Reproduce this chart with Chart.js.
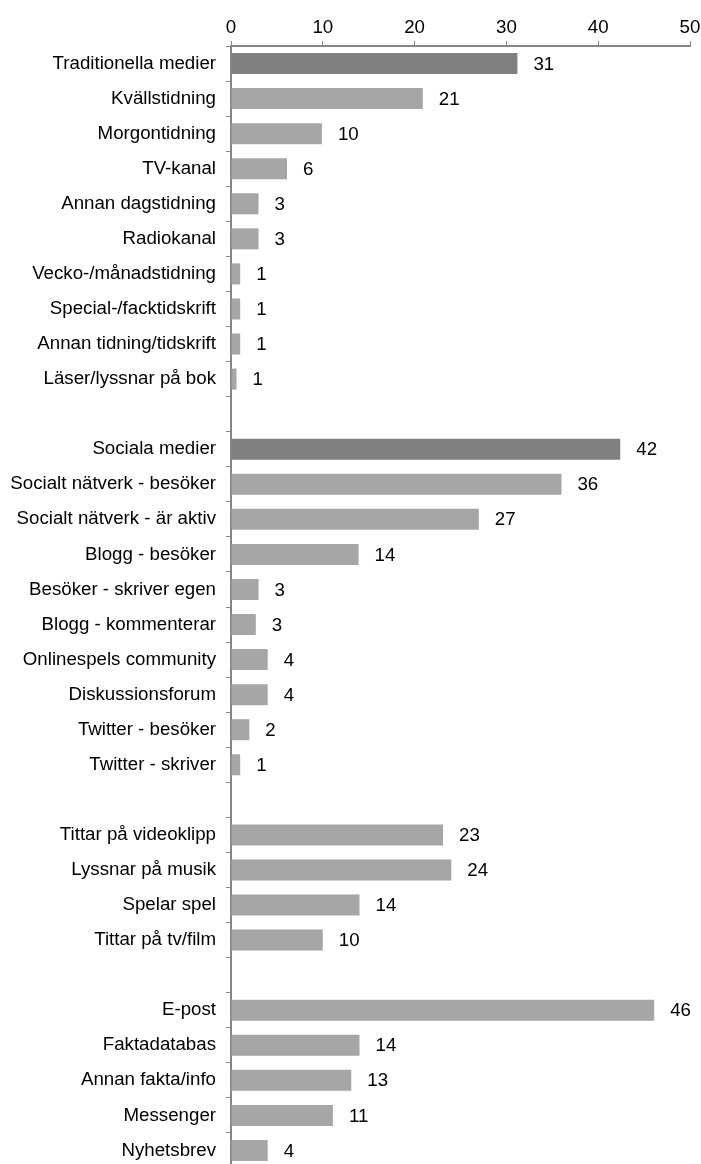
<!DOCTYPE html>
<html>
<head>
<meta charset="utf-8">
<script src="https://cdn.jsdelivr.net/npm/chart.js@4/dist/chart.umd.min.js"></script>
<style>
    html, body { margin: 0; padding: 0; background: #fff; overflow: hidden; }
    #wrap { width: 701px; height: 1164px; overflow: hidden; }
    canvas { display: block; }
</style>
</head>
<body>
<!-- canvas is a few px taller than the page: the original crop cuts the plot at the bottom -->
<div id="wrap"><canvas id="mediaChart" width="701" height="1168"></canvas></div>
<script>
// Categories (empty strings are the gaps between groups)
const categories = [
    'Traditionella medier', 'Kvällstidning', 'Morgontidning', 'TV-kanal', 'Annan dagstidning',
    'Radiokanal', 'Vecko-/månadstidning', 'Special-/facktidskrift', 'Annan tidning/tidskrift', 'Läser/lyssnar på bok',
    '',
    'Sociala medier', 'Socialt nätverk - besöker', 'Socialt nätverk - är aktiv', 'Blogg - besöker', 'Besöker - skriver egen',
    'Blogg - kommenterar', 'Onlinespels community', 'Diskussionsforum', 'Twitter - besöker', 'Twitter - skriver',
    '',
    'Tittar på videoklipp', 'Lyssnar på musik', 'Spelar spel', 'Tittar på tv/film',
    '',
    'E-post', 'Faktadatabas', 'Annan fakta/info', 'Messenger', 'Nyhetsbrev'
];

// Bar lengths
const values = [
    31.2, 20.9, 9.9, 6.1, 3.0, 3.0, 1.0, 1.0, 1.0, 0.6,
    null,
    42.4, 36.0, 27.0, 13.9, 3.0, 2.7, 4.0, 4.0, 2.0, 1.0,
    null,
    23.1, 24.0, 14.0, 10.0,
    null,
    46.1, 14.0, 13.1, 11.1, 4.0
];

// Labels printed next to the bars
const valueLabels = [
    '31', '21', '10', '6', '3', '3', '1', '1', '1', '1',
    '',
    '42', '36', '27', '14', '3', '3', '4', '4', '2', '1',
    '',
    '23', '24', '14', '10',
    '',
    '46', '14', '13', '11', '4'
];

// Group totals get the darker bar
const headerRows = ['Traditionella medier', 'Sociala medier'];

const xTicks = [0, 10, 20, 30, 40, 50];

const FONT = "'Liberation Sans', Arial, sans-serif";
const FONT_SIZE = 18.7;
const AXIS_COLOR = '#868686';

const barColors = categories.map(c => headerRows.includes(c) ? '#808080' : '#a6a6a6');

// Draws the value next to each bar
const valueLabelPlugin = {
    id: 'valueLabels',
    afterDatasetsDraw(chart) {
        const ctx = chart.ctx;
        const meta = chart.getDatasetMeta(0);
        ctx.save();
        ctx.font = FONT_SIZE + 'px ' + FONT;
        ctx.fillStyle = '#000';
        ctx.textAlign = 'left';
        ctx.textBaseline = 'middle';
        meta.data.forEach((bar, i) => {
            if (values[i] === null) return;
            ctx.fillText(valueLabels[i], bar.x + 16, bar.y + 1);
        });
        ctx.restore();
    }
};

const ctx = document.getElementById('mediaChart').getContext('2d');
const mediaChart = new Chart(ctx, {
    type: 'bar',
    data: {
        labels: categories,
        datasets: [{
            data: values,
            backgroundColor: barColors,
            borderWidth: 0,
            barPercentage: 0.6,
            categoryPercentage: 1.0
        }]
    },
    options: {
        indexAxis: 'y',
        responsive: false,
        animation: false,
        layout: { padding: { top: 0, right: 11, bottom: 0, left: 0 } },
        plugins: {
            legend: { display: false },
            tooltip: { enabled: false }
        },
        scales: {
            x: {
                position: 'top',
                min: 0,
                max: 50,
                afterBuildTicks: scale => { scale.ticks = xTicks.map(v => ({ value: v })); },
                afterFit: scale => {
                    scale.height = 46;
                    scale.paddingLeft = 0;
                    scale.paddingRight = 0;
                },
                ticks: {
                    color: '#000',
                    font: { family: FONT, size: FONT_SIZE },
                    padding: 2,
                    maxRotation: 0
                },
                grid: {
                    drawOnChartArea: false,
                    drawTicks: true,
                    tickLength: 5,
                    color: AXIS_COLOR
                },
                border: { display: true, color: AXIS_COLOR, width: 2 }
            },
            y: {
                afterFit: scale => {
                    scale.width = 231;
                    scale.paddingTop = 0;
                    scale.paddingBottom = 0;
                },
                ticks: {
                    color: '#000',
                    font: { family: FONT, size: FONT_SIZE },
                    padding: 10,
                    autoSkip: false
                },
                grid: {
                    offset: true,
                    drawOnChartArea: false,
                    drawTicks: true,
                    tickLength: 5,
                    color: AXIS_COLOR
                },
                border: { display: true, color: AXIS_COLOR, width: 2 }
            }
        }
    },
    plugins: [valueLabelPlugin]
});
</script>
</body>
</html>
